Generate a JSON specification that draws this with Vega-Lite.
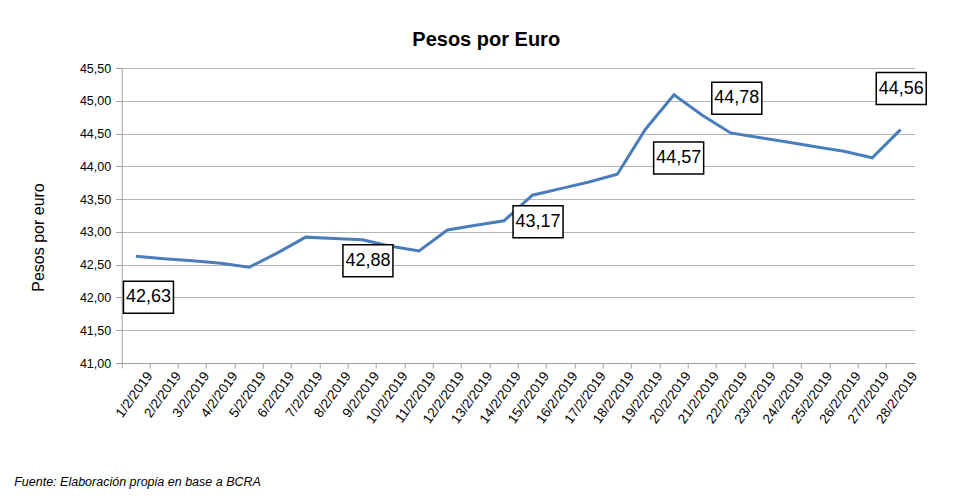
{
  "$schema": "https://vega.github.io/schema/vega-lite/v6.json",
  "width": 793,
  "height": 295,
  "autosize": {"type": "none"},
  "padding": {"left": 121.7, "top": 68, "right": 47.3, "bottom": 133},
  "background": "white",
  "config": {
    "locale": {"number": {"decimal": ",", "thousands": ".", "grouping": [3], "currency": ["", " €"]}},
    "view": {"stroke": null},
    "font": "Liberation Sans"
  },
  "title": {
    "text": "Pesos por Euro",
    "font": "Liberation Sans",
    "fontSize": 20,
    "fontWeight": "bold",
    "color": "#000000",
    "anchor": "middle",
    "dx": -32,
    "offset": 12
  },
  "data": {
    "values": [
      {"fecha": "1/2/2019", "valor": 42.63},
      {"fecha": "2/2/2019", "valor": 42.59},
      {"fecha": "3/2/2019", "valor": 42.56},
      {"fecha": "4/2/2019", "valor": 42.52},
      {"fecha": "5/2/2019", "valor": 42.46},
      {"fecha": "6/2/2019", "valor": 42.68},
      {"fecha": "7/2/2019", "valor": 42.92},
      {"fecha": "8/2/2019", "valor": 42.9},
      {"fecha": "9/2/2019", "valor": 42.88},
      {"fecha": "10/2/2019", "valor": 42.78},
      {"fecha": "11/2/2019", "valor": 42.71},
      {"fecha": "12/2/2019", "valor": 43.03},
      {"fecha": "13/2/2019", "valor": 43.1},
      {"fecha": "14/2/2019", "valor": 43.17},
      {"fecha": "15/2/2019", "valor": 43.56},
      {"fecha": "16/2/2019", "valor": 43.66},
      {"fecha": "17/2/2019", "valor": 43.76},
      {"fecha": "18/2/2019", "valor": 43.88},
      {"fecha": "19/2/2019", "valor": 44.57},
      {"fecha": "20/2/2019", "valor": 45.09},
      {"fecha": "21/2/2019", "valor": 44.78},
      {"fecha": "22/2/2019", "valor": 44.51},
      {"fecha": "23/2/2019", "valor": 44.44},
      {"fecha": "24/2/2019", "valor": 44.37},
      {"fecha": "25/2/2019", "valor": 44.3},
      {"fecha": "26/2/2019", "valor": 44.23},
      {"fecha": "27/2/2019", "valor": 44.13},
      {"fecha": "28/2/2019", "valor": 44.56}
    ]
  },
  "encoding": {
    "x": {
      "field": "fecha",
      "type": "ordinal",
      "sort": null,
      "bandPosition": 0.5,
      "scale": {"type": "band", "paddingInner": 0, "paddingOuter": 0},
      "axis": {
        "title": "Fuente: Elaboración propia en base a BCRA",
        "titleX": -108,
        "titleY": 118,
        "titleAlign": "left",
        "titleAnchor": "start",
        "titleBaseline": "middle",
        "titleFont": "Liberation Sans",
        "titleFontStyle": "italic",
        "titleFontWeight": "normal",
        "titleFontSize": 12.5,
        "titleColor": "#000000",
        "bandPosition": 0,
        "labelOffset": 14.16,
        "labelAngle": -54,
        "labelAlign": "right",
        "labelBaseline": "middle",
        "labelFontSize": 13.5,
        "labelColor": "#000000",
        "labelPadding": 5,
        "tickSize": 5,
        "tickColor": "#a0a0a0",
        "domainColor": "#a0a0a0",
        "grid": false
      }
    },
    "y": {
      "field": "valor",
      "type": "quantitative",
      "scale": {"domain": [41, 45.5], "nice": false, "zero": false},
      "axis": {
        "values": [41, 41.5, 42, 42.5, 43, 43.5, 44, 44.5, 45, 45.5],
        "format": ".2f",
        "title": "Pesos por euro",
        "titleFont": "Liberation Sans",
        "titleFontSize": 16,
        "titleFontWeight": "normal",
        "titleColor": "#000000",
        "titleX": -83,
        "titleY": 169,
        "titleAlign": "center",
        "titleBaseline": "middle",
        "labelFontSize": 12.5,
        "labelColor": "#000000",
        "labelPadding": 5,
        "tickSize": 6,
        "tickColor": "#a0a0a0",
        "domainColor": "#a0a0a0",
        "gridColor": "#b4b4b4",
        "grid": true
      }
    }
  },
  "layer": [
    {"mark": {"type": "line", "color": "#4a7ebb", "strokeWidth": 3}},
    {
      "transform": [{"filter": "datum.fecha == '1/2/2019'"}],
      "layer": [
        {"mark": {"type": "point", "shape": "M-1,-0.64H1V0.64H-1Z", "size": 2500, "filled": true, "fill": "white", "stroke": "black", "strokeWidth": 1.5, "opacity": 1, "xOffset": 12.6, "yOffset": 41}},
        {"mark": {"type": "text", "fontSize": 18, "color": "#000000", "xOffset": 12.6, "yOffset": 41, "baseline": "middle", "align": "center"}, "encoding": {"text": {"field": "valor", "type": "quantitative", "format": ".2f"}}}
      ]
    },
    {
      "transform": [{"filter": "datum.fecha == '9/2/2019'"}],
      "layer": [
        {"mark": {"type": "point", "shape": "M-1,-0.64H1V0.64H-1Z", "size": 2500, "filled": true, "fill": "white", "stroke": "black", "strokeWidth": 1.5, "opacity": 1, "xOffset": 5.5, "yOffset": 21}},
        {"mark": {"type": "text", "fontSize": 18, "color": "#000000", "xOffset": 5.5, "yOffset": 21, "baseline": "middle", "align": "center"}, "encoding": {"text": {"field": "valor", "type": "quantitative", "format": ".2f"}}}
      ]
    },
    {
      "transform": [{"filter": "datum.fecha == '14/2/2019'"}],
      "layer": [
        {"mark": {"type": "point", "shape": "M-1,-0.64H1V0.64H-1Z", "size": 2500, "filled": true, "fill": "white", "stroke": "black", "strokeWidth": 1.5, "opacity": 1, "xOffset": 34, "yOffset": 1}},
        {"mark": {"type": "text", "fontSize": 18, "color": "#000000", "xOffset": 34, "yOffset": 1, "baseline": "middle", "align": "center"}, "encoding": {"text": {"field": "valor", "type": "quantitative", "format": ".2f"}}}
      ]
    },
    {
      "transform": [{"filter": "datum.fecha == '19/2/2019'"}],
      "layer": [
        {"mark": {"type": "point", "shape": "M-1,-0.64H1V0.64H-1Z", "size": 2500, "filled": true, "fill": "white", "stroke": "black", "strokeWidth": 1.5, "opacity": 1, "xOffset": 33, "yOffset": 29}},
        {"mark": {"type": "text", "fontSize": 18, "color": "#000000", "xOffset": 33, "yOffset": 29, "baseline": "middle", "align": "center"}, "encoding": {"text": {"field": "valor", "type": "quantitative", "format": ".2f"}}}
      ]
    },
    {
      "transform": [{"filter": "datum.fecha == '21/2/2019'"}],
      "layer": [
        {"mark": {"type": "point", "shape": "M-1,-0.64H1V0.64H-1Z", "size": 2500, "filled": true, "fill": "white", "stroke": "black", "strokeWidth": 1.5, "opacity": 1, "xOffset": 34.5, "yOffset": -17}},
        {"mark": {"type": "text", "fontSize": 18, "color": "#000000", "xOffset": 34.5, "yOffset": -17, "baseline": "middle", "align": "center"}, "encoding": {"text": {"field": "valor", "type": "quantitative", "format": ".2f"}}}
      ]
    },
    {
      "transform": [{"filter": "datum.fecha == '28/2/2019'"}],
      "layer": [
        {"mark": {"type": "point", "shape": "M-1,-0.64H1V0.64H-1Z", "size": 2500, "filled": true, "fill": "white", "stroke": "black", "strokeWidth": 1.5, "opacity": 1, "xOffset": 0.7, "yOffset": -41}},
        {"mark": {"type": "text", "fontSize": 18, "color": "#000000", "xOffset": 0.7, "yOffset": -41, "baseline": "middle", "align": "center"}, "encoding": {"text": {"field": "valor", "type": "quantitative", "format": ".2f"}}}
      ]
    }
  ]
}
